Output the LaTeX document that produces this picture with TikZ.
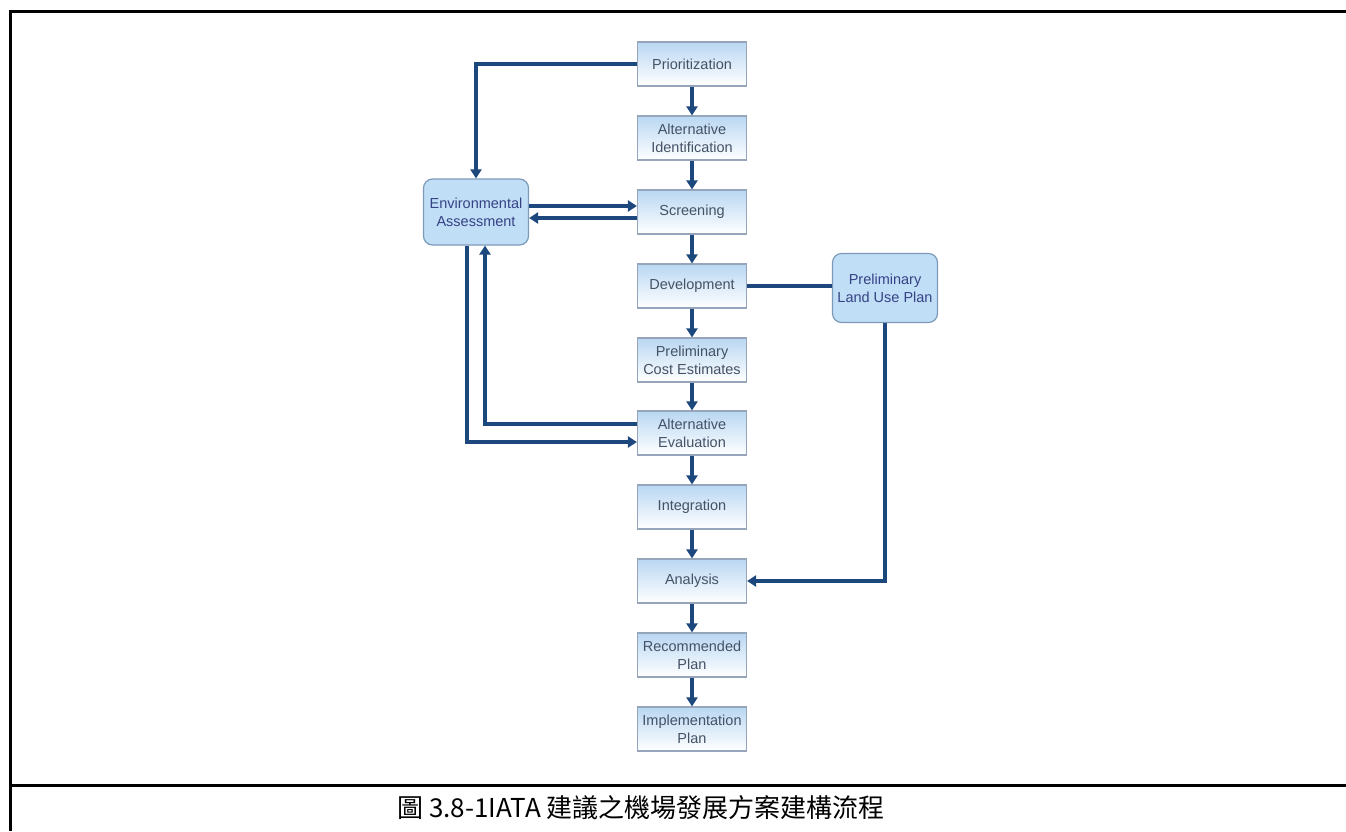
\documentclass[tikz,border=0pt]{standalone}
\usepackage{fontspec}
\setmainfont{Liberation Sans}
\newfontfamily\cjk{Noto Sans CJK TC}
\usetikzlibrary{calc, arrows.meta}
\definecolor{flowblue}{RGB}{28,72,125}
\definecolor{boxedge}{RGB}{150,165,185}
\definecolor{boxtop}{RGB}{185,215,242}
\definecolor{sidefill}{RGB}{192,222,246}
\definecolor{sideedge}{RGB}{125,155,185}
\definecolor{labelgray}{RGB}{68,82,102}
\tikzset{
    stepbox/.style={draw=boxedge, line width=1.2pt, top color=boxtop, middle color=white, bottom color=white,
        minimum width=109pt, minimum height=44pt, inner sep=1pt, align=center, text=labelgray,
        font=\fontsize{14.5}{18}\selectfont},
    sidebox/.style={draw=sideedge, line width=1.2pt, fill=sidefill, rounded corners=9pt,
        minimum width=105pt, minimum height=66pt, inner sep=1pt, align=center, text=labelgray!80!blue,
        font=\fontsize{14.5}{18}\selectfont},
    flow/.style={draw=flowblue, line width=3.5pt, -{Triangle[length=9pt,width=11pt]}},
    link/.style={draw=flowblue, line width=3.5pt},
    frame/.style={draw=black, line width=3pt}
}
\begin{document}
\begin{tikzpicture}[x=1pt,y=-1pt]
            \useasboundingbox (0,0) rectangle (1346,831);
            \draw[frame] (10,831)--(10,11)--(1346,11);
            \draw[frame] (10,785)--(1346,785);
            \node[font=\cjk\fontsize{26}{30}\selectfont] (caption) at (641,808) {圖 3.8-1IATA 建議之機場發展方案建構流程};

            \node[stepbox] (prio) at (692,64) {Prioritization};
            \node[stepbox] (ident) at (692,138) {Alternative\\Identification};
            \node[stepbox] (scr) at (692,212) {Screening};
            \node[stepbox] (dev) at (692,286) {Development};
            \node[stepbox] (cost) at (692,360) {Preliminary\\Cost Estimates};
            \node[stepbox] (eval) at (692,433) {Alternative\\Evaluation};
            \node[stepbox] (integ) at (692,507) {Integration};
            \node[stepbox] (anal) at (692,581) {Analysis};
            \node[stepbox] (recom) at (692,655) {Recommended\\Plan};
            \node[stepbox] (impl) at (692,729) {Implementation\\Plan};

            \node[sidebox] (env) at (476,212) {Environmental\\Assessment};
            \node[sidebox, minimum height=69pt] (land) at (885,288) {Preliminary\\Land Use Plan};

            \draw[flow] (prio)--(ident);
            \draw[flow] (ident)--(scr);
            \draw[flow] (scr)--(dev);
            \draw[flow] (dev)--(cost);
            \draw[flow] (cost)--(eval);
            \draw[flow] (eval)--(integ);
            \draw[flow] (integ)--(anal);
            \draw[flow] (anal)--(recom);
            \draw[flow] (recom)--(impl);

            \draw[flow] (prio.west) -| (env.north);
            \draw[flow] ([yshift=6pt]env.east)--([yshift=6pt]scr.west);
            \draw[flow] ([yshift=-6pt]scr.west)--([yshift=-6pt]env.east);
            \draw[flow] ([xshift=-9pt]env.south) |- ([yshift=-9pt]eval.west);
            \draw[flow] ([yshift=9pt]eval.west) -| ([xshift=9pt]env.south);
            \draw[link] (dev.east)--(dev.east -| land.west);
            \draw[flow] (land.south) |- (anal.east);
\end{tikzpicture}
\end{document}
